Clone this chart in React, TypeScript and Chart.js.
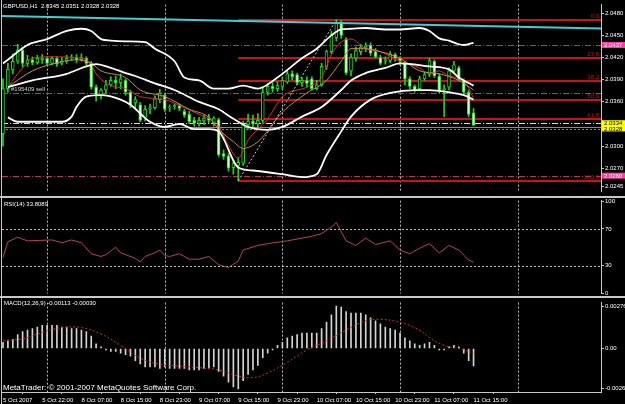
import React, { useEffect, useRef } from 'react';
import { Chart, registerables } from 'chart.js';

Chart.register(...registerables);

const FONT = '"Liberation Sans", Arial, sans-serif';

// ---------------- data ----------------
const SYMBOL = 'GBPUSD,H1';
const timeLabels = ['5 Oct 2007', '5 Oct 22:00', '8 Oct 07:00', '8 Oct 15:00', '8 Oct 23:00', '9 Oct 07:00', '9 Oct 15:00', '9 Oct 23:00', '10 Oct 07:00', '10 Oct 15:00', '10 Oct 23:00', '11 Oct 07:00', '11 Oct 15:00'];
const timeLabelBars = [0, 8, 16, 24, 32, 40, 48, 56, 64, 72, 80, 88, 96];
const gridBars = [9, 33, 57, 81, 105];

const opens = [
  2.0317, 2.0378, 2.0404, 2.0415, 2.0430, 2.0412, 2.0417, 2.0413, 2.0417, 2.0419,
  2.0412, 2.0419, 2.0412, 2.0415, 2.0419, 2.0420, 2.0417, 2.0419, 2.0412, 2.0380,
  2.0369, 2.0376, 2.0383, 2.0389, 2.0386, 2.0389, 2.0373, 2.0359, 2.0356, 2.0339,
  2.0350, 2.0352, 2.0363, 2.0369, 2.0352, 2.0353, 2.0355, 2.0347, 2.0343, 2.0335,
  2.0331, 2.0334, 2.0338, 2.0331, 2.0336, 2.0290, 2.0287, 2.0271, 2.0274, 2.0277,
  2.0329, 2.0334, 2.0330, 2.0335, 2.0373, 2.0381, 2.0378, 2.0381, 2.0387, 2.0398,
  2.0397, 2.0386, 2.0389, 2.0391, 2.0378, 2.0383, 2.0407, 2.0428, 2.0447, 2.0467,
  2.0445, 2.0402, 2.0419, 2.0428, 2.0433, 2.0437, 2.0428, 2.0420, 2.0415, 2.0416,
  2.0424, 2.0419, 2.0412, 2.0391, 2.0381, 2.0378, 2.0391, 2.0397, 2.0415, 2.0395,
  2.0376, 2.0380, 2.0402, 2.0406, 2.0389, 2.0373, 2.0345,
];
const highs = [
  2.0391, 2.0412, 2.0425, 2.0438, 2.0434, 2.0423, 2.0421, 2.0423, 2.0424, 2.0421,
  2.0421, 2.0421, 2.0420, 2.0423, 2.0424, 2.0424, 2.0425, 2.0421, 2.0415, 2.0383,
  2.0378, 2.0389, 2.0394, 2.0395, 2.0398, 2.0391, 2.0376, 2.0367, 2.0359, 2.0355,
  2.0357, 2.0368, 2.0377, 2.0372, 2.0356, 2.0357, 2.0357, 2.0350, 2.0347, 2.0339,
  2.0339, 2.0342, 2.0343, 2.0340, 2.0338, 2.0295, 2.0290, 2.0280, 2.0284, 2.0334,
  2.0343, 2.0342, 2.0344, 2.0380, 2.0385, 2.0386, 2.0387, 2.0393, 2.0402, 2.0402,
  2.0399, 2.0393, 2.0394, 2.0394, 2.0389, 2.0412, 2.0430, 2.0456, 2.0471, 2.0470,
  2.0447, 2.0425, 2.0434, 2.0438, 2.0440, 2.0440, 2.0432, 2.0423, 2.0421, 2.0428,
  2.0426, 2.0421, 2.0415, 2.0394, 2.0383, 2.0395, 2.0400, 2.0419, 2.0417, 2.0398,
  2.0383, 2.0406, 2.0415, 2.0408, 2.0391, 2.0376, 2.0351,
];
const lows = [
  2.0300, 2.0373, 2.0398, 2.0412, 2.0407, 2.0408, 2.0410, 2.0411, 2.0412, 2.0410,
  2.0410, 2.0408, 2.0410, 2.0412, 2.0416, 2.0413, 2.0415, 2.0410, 2.0377, 2.0361,
  2.0364, 2.0372, 2.0381, 2.0378, 2.0378, 2.0369, 2.0352, 2.0352, 2.0333, 2.0334,
  2.0344, 2.0350, 2.0359, 2.0347, 2.0347, 2.0350, 2.0348, 2.0339, 2.0330, 2.0327,
  2.0327, 2.0329, 2.0331, 2.0327, 2.0286, 2.0282, 2.0266, 2.0262, 2.0253, 2.0274,
  2.0323, 2.0326, 2.0325, 2.0331, 2.0369, 2.0373, 2.0374, 2.0377, 2.0385, 2.0390,
  2.0383, 2.0381, 2.0380, 2.0376, 2.0376, 2.0381, 2.0404, 2.0425, 2.0443, 2.0446,
  2.0397, 2.0395, 2.0415, 2.0424, 2.0428, 2.0423, 2.0419, 2.0410, 2.0411, 2.0413,
  2.0415, 2.0410, 2.0383, 2.0378, 2.0373, 2.0376, 2.0389, 2.0394, 2.0393, 2.0372,
  2.0340, 2.0376, 2.0399, 2.0389, 2.0370, 2.0340, 2.0328,
];
const closes = [
  2.0378, 2.0404, 2.0415, 2.0430, 2.0412, 2.0417, 2.0413, 2.0419, 2.0419, 2.0412,
  2.0419, 2.0411, 2.0415, 2.0419, 2.0420, 2.0417, 2.0420, 2.0412, 2.0380, 2.0369,
  2.0376, 2.0383, 2.0389, 2.0386, 2.0391, 2.0373, 2.0356, 2.0363, 2.0335, 2.0350,
  2.0352, 2.0364, 2.0372, 2.0350, 2.0353, 2.0355, 2.0351, 2.0342, 2.0333, 2.0331,
  2.0335, 2.0338, 2.0335, 2.0338, 2.0288, 2.0286, 2.0270, 2.0277, 2.0278, 2.0330,
  2.0334, 2.0330, 2.0335, 2.0373, 2.0381, 2.0378, 2.0382, 2.0389, 2.0398, 2.0394,
  2.0386, 2.0389, 2.0385, 2.0378, 2.0383, 2.0408, 2.0428, 2.0451, 2.0467, 2.0450,
  2.0399, 2.0420, 2.0430, 2.0434, 2.0436, 2.0426, 2.0421, 2.0412, 2.0417, 2.0424,
  2.0419, 2.0415, 2.0391, 2.0381, 2.0376, 2.0391, 2.0397, 2.0416, 2.0395, 2.0374,
  2.0378, 2.0402, 2.0410, 2.0391, 2.0373, 2.0343, 2.0328,
];

// [bar, price]
const bandUpper = [[0, 2.0412], [1, 2.0417], [5, 2.0437], [9, 2.0445], [13, 2.0456], [16, 2.0459], [18, 2.0456], [20, 2.0445], [22, 2.0443], [25, 2.0442], [29, 2.0441], [31, 2.0432], [35, 2.0415], [37, 2.0393], [40, 2.0389], [43, 2.0378], [46, 2.0378], [49, 2.0382], [52, 2.0378], [56, 2.0393], [61, 2.0419], [64, 2.0432], [67, 2.0450], [69, 2.0458], [71, 2.0459], [74, 2.0460], [78, 2.0458], [81, 2.0458], [85, 2.0460], [87, 2.0456], [89, 2.0446], [91, 2.0443], [93, 2.0438], [94, 2.0437], [96, 2.0440]];
const bandMiddle = [[1, 2.0380], [6, 2.0389], [13, 2.0398], [17, 2.0408], [19, 2.0411], [22, 2.0406], [25, 2.0399], [27, 2.0395], [31, 2.0385], [35, 2.0376], [40, 2.0360], [44, 2.0350], [47, 2.0337], [50, 2.0326], [54, 2.0322], [57, 2.0326], [61, 2.0340], [65, 2.0353], [69, 2.0376], [71, 2.0389], [74, 2.0399], [78, 2.0406], [81, 2.0412], [87, 2.0408], [91, 2.0404], [93, 2.0393], [96, 2.0382]];
const bandLower = [[1, 2.0339], [3, 2.0333], [12, 2.0333], [14, 2.0340], [15, 2.0353], [17, 2.0367], [20, 2.0369], [24, 2.0363], [26, 2.0356], [30, 2.0333], [33, 2.0326], [36, 2.0330], [39, 2.0323], [42, 2.0323], [44, 2.0320], [48, 2.0271], [51, 2.0267], [57, 2.0262], [61, 2.0258], [64, 2.0262], [66, 2.0288], [69, 2.0320], [71, 2.0340], [75, 2.0363], [79, 2.0372], [84, 2.0376], [87, 2.0376], [91, 2.0373], [94, 2.0369], [96, 2.0363]];
const maFast = [[1, 2.0380], [4, 2.0406], [6, 2.0419], [10, 2.0421], [16, 2.0419], [18, 2.0411], [19, 2.0398], [22, 2.0382], [25, 2.0378], [28, 2.0367], [33, 2.0363], [37, 2.0352], [40, 2.0343], [44, 2.0327], [46, 2.0301], [48, 2.0284], [50, 2.0308], [54, 2.0337], [57, 2.0367], [62, 2.0380], [65, 2.0393], [67, 2.0424], [69, 2.0441], [71, 2.0445], [74, 2.0432], [77, 2.0428], [81, 2.0415], [85, 2.0406], [87, 2.0398], [89, 2.0402], [91, 2.0395], [94, 2.0389], [96, 2.0365]];
const maSlow = [[1, 2.0380], [6, 2.0402], [10, 2.0411], [15, 2.0417], [18, 2.0412], [20, 2.0402], [25, 2.0393], [28, 2.0376], [33, 2.0367], [38, 2.0350], [42, 2.0339], [44, 2.0323], [47, 2.0306], [49, 2.0297], [52, 2.0306], [57, 2.0346], [62, 2.0372], [66, 2.0389], [69, 2.0415], [71, 2.0432], [74, 2.0432], [77, 2.0428], [81, 2.0419], [85, 2.0402], [89, 2.0398], [93, 2.0389], [96, 2.0376]];
const trendCyan = [[-1, 2.04765], [122, 2.04592]];

const fibLevels = [0, 23.6, 38.2, 50, 61.8, 100];
const fibLowBar = 48;
const fibHighBar = 68;
const fibLow = 2.0253;
const fibHigh = 2.0471;

const objectLines = [
  { price: 2.0437, color: '#b23a60', dash: [6, 2, 1, 2] },
  { price: 2.0260, color: '#b23a60', dash: [6, 2, 1, 2] },
  { price: 2.0372, color: '#2c8c2c', dash: [6, 2, 1, 2] },
  { price: 2.0332, color: '#e4e4b0', dash: [6, 2, 1, 2] },
  { price: 2.0326, color: '#8c8c8c', dash: [] },
  { price: 2.0323, color: '#8c8c44', dash: [2, 2] },
];
const orderText = '#195409 sell';
const orderPrice = 2.0372;
const priceBoxes = [
  { text: '2.0437', price: 2.0437, bg: '#ff3d9e', fg: '#ffffff' },
  { text: '2.0334', price: 2.0331, bg: '#ffff00', fg: '#000000' },
  { text: '2.0328', price: 2.0324, bg: '#ffff00', fg: '#000000' },
  { text: '2.0260', price: 2.0260, bg: '#ff3d9e', fg: '#ffffff' },
];
const priceTicks = [2.0245, 2.0270, 2.0300, 2.0330, 2.0360, 2.0390, 2.0420, 2.0450, 2.0480];

const rsiValues = [[0, 39], [1, 56], [3, 61], [5, 57], [10, 58], [12, 55], [14, 58], [16, 55], [18, 43], [20, 40], [21, 42], [23, 50], [24, 44], [25, 42], [27, 38], [28, 34], [29, 40], [31, 44], [32, 47], [33, 41], [34, 40], [36, 43], [38, 37], [40, 37], [42, 40], [44, 31], [46, 28], [48, 35], [49, 47], [52, 52], [54, 54], [58, 57], [61, 60], [63, 62], [65, 65], [67, 72], [68, 77], [70, 57], [72, 52], [74, 60], [76, 53], [79, 57], [81, 47], [83, 43], [85, 49], [87, 54], [89, 44], [91, 52], [93, 47], [95, 36], [96, 33.8089]];
const rsiLevels = [30, 70];
const rsiTicks = [0, 30, 70, 100];

const macdHist = [
  0.0004, 0.0005, 0.0006, 0.0009, 0.0011, 0.0012, 0.0013, 0.0014, 0.0015, 0.0015,
  0.0015, 0.0015, 0.0014, 0.0014, 0.0013, 0.0013, 0.0012, 0.0011, 0.0008, 0.0003,
  0.0001, -0.0001, -0.0002, -0.0002, -0.0003, -0.0004, -0.0005, -0.0008, -0.0010, -0.0012,
  -0.0012, -0.0012, -0.0013, -0.0012, -0.0013, -0.0013, -0.0013, -0.0013, -0.0014, -0.0014,
  -0.0014, -0.0013, -0.0013, -0.0012, -0.0015, -0.0018, -0.0022, -0.0025, -0.00263, -0.0021,
  -0.0017, -0.0014, -0.0011, -0.0006, -0.0003, -0.0001, 0.0002, 0.0004, 0.0007, 0.0008,
  0.0009, 0.0010, 0.0010, 0.0010, 0.0010, 0.0013, 0.0017, 0.0022, 0.00276, 0.0027,
  0.0024, 0.0023, 0.0023, 0.0023, 0.0022, 0.0020, 0.0018, 0.0016, 0.0014, 0.0013,
  0.0012, 0.0010, 0.0007, 0.0005, 0.0003, 0.0002, 0.0003, 0.0004, 0.0002, -0.0001,
  -0.0001, 0.0001, 0.0002, 0.0001, -0.0003, -0.0008, -0.00113,
];
const macdSignal = [[0, 0.00053], [4, 0.00063], [8, 0.00105], [12, 0.00136], [16, 0.00136], [20, 0.00094], [24, 0.0002], [28, -0.00063], [32, -0.00104], [36, -0.00115], [40, -0.00125], [44, -0.0014], [48, -0.0018], [51, -0.0019], [54, -0.0016], [58, -0.0009], [62, -0.0001], [66, 0.0005], [70, 0.0012], [74, 0.0018], [77, 0.0019], [81, 0.0017], [85, 0.0012], [87, 0.0007], [90, 0.0002], [93, 0.0], [96, -0.0003]];
const macdTicks = [-0.00263, 0, 0.00276];

// ---------------- layout / style ----------------
const W = 625;
const AXIS_W = 24;
const X_MIN = -0.2;
const X_MAX = 122;
const FRAME = '#c8c8c8';
const GREEN = '#22d422';
const BULL_FILL = '#000000';
const BEAR_FILL = '#d6ffd0';
const FIB_COLOR = '#c81414';

const font = (s: number) => `${s}px ${FONT}`;

const xAxis = (display: boolean): any => ({
  type: 'linear',
  min: X_MIN,
  max: X_MAX,
  offset: false,
  display,
  grid: display ? { display: true, drawOnChartArea: false, drawTicks: true, tickLength: 2, color: FRAME } : { display: false },
  border: display ? { display: true, color: FRAME } : { display: false },
  afterFit: (s: any) => { if (display) s.height = 12; },
  afterBuildTicks: (s: any) => { s.ticks = timeLabelBars.map((v) => ({ value: v })); },
  ticks: {
    color: '#ffffff',
    font: { size: 6, family: FONT },
    padding: 3,
    maxRotation: 0,
    autoSkip: false,
    align: 'start',
    callback: (v: number) => {
      const k = timeLabelBars.indexOf(v);
      return k >= 0 ? timeLabels[k] : '';
    },
  },
});

const yAxis = (min: number, max: number, ticks: number[], fmt: (v: number) => string): any => ({
  type: 'linear',
  position: 'right',
  min,
  max,
  afterFit: (s: any) => { s.width = AXIS_W; },
  afterBuildTicks: (s: any) => { s.ticks = ticks.map((v) => ({ value: v })); },
  grid: { display: true, drawOnChartArea: false, drawTicks: true, tickLength: 3, color: FRAME },
  border: { display: true, color: FRAME },
  ticks: { color: '#ffffff', font: { size: 6, family: FONT }, padding: 1, autoSkip: false, callback: fmt },
});

const lineDs = (pts: number[][], color: string, width: number, extra: any = {}): any => ({
  type: 'line',
  data: pts.map(([x, y]) => ({ x, y })),
  borderColor: color,
  borderWidth: width,
  pointRadius: 0,
  fill: false,
  cubicInterpolationMode: 'monotone',
  order: 0,
  ...extra,
});

const drawGrid = (chart: any) => {
  const { ctx, chartArea: a, scales } = chart;
  ctx.save();
  ctx.strokeStyle = '#b8b8b8';
  ctx.lineWidth = 1;
  ctx.setLineDash([2, 2]);
  gridBars.forEach((b) => {
    const px = Math.round(scales.x.getPixelForValue(b)) + 0.5;
    ctx.beginPath();
    ctx.moveTo(px, a.top);
    ctx.lineTo(px, a.bottom);
    ctx.stroke();
  });
  ctx.restore();
};

const drawLeftFrame = (chart: any) => {
  const { ctx, height } = chart;
  ctx.save();
  ctx.fillStyle = FRAME;
  ctx.fillRect(1, 0, 1, height);
  ctx.restore();
};

const commonOpts = (padding: any): any => ({
  responsive: false,
  animation: false,
  devicePixelRatio: 1,
  events: [],
  layout: { padding },
  plugins: { legend: { display: false }, tooltip: { enabled: false } },
});

const bars = opens.map((_, i) => i);

function mainConfig(): any {
  const overlay = {
    id: 'mainOverlay',
    beforeDatasetsDraw(chart: any) {
      drawGrid(chart);
      const { ctx, chartArea: a, scales: { x, y } } = chart;
      ctx.save();
      ctx.lineWidth = 1;
      objectLines.forEach((l) => {
        const py = Math.round(y.getPixelForValue(l.price)) + 0.5;
        ctx.strokeStyle = l.color;
        ctx.setLineDash(l.dash);
        ctx.beginPath();
        ctx.moveTo(a.left, py);
        ctx.lineTo(a.right, py);
        ctx.stroke();
      });
      ctx.setLineDash([]);
      ctx.strokeStyle = FIB_COLOR;
      ctx.lineWidth = 2;
      fibLevels.forEach((lv) => {
        const p = fibHigh - ((fibHigh - fibLow) * lv) / 100;
        const py = Math.round(y.getPixelForValue(p));
        ctx.beginPath();
        ctx.moveTo(x.getPixelForValue(fibLowBar), py);
        ctx.lineTo(a.right, py);
        ctx.stroke();
      });
      ctx.restore();
    },
    afterDraw(chart: any) {
      const { ctx, chartArea: a, scales: { y } } = chart;
      drawLeftFrame(chart);
      ctx.save();
      ctx.textBaseline = 'alphabetic';
      ctx.font = font(6);
      // fib labels
      ctx.fillStyle = FIB_COLOR;
      ctx.textAlign = 'right';
      fibLevels.forEach((lv) => {
        const p = fibHigh - ((fibHigh - fibLow) * lv) / 100;
        const py = Math.round(y.getPixelForValue(p));
        ctx.fillText(lv.toFixed(1), a.right - 2, py - 2);
      });
      // order text
      ctx.textAlign = 'left';
      ctx.fillStyle = '#d0d0d0';
      ctx.fillText(orderText, 11, y.getPixelForValue(orderPrice) - 2);
      // title
      const n = opens.length - 1;
      ctx.fillStyle = '#ffffff';
      ctx.textBaseline = 'middle';
      ctx.fillText(`${SYMBOL}  ${opens[n].toFixed(4)} ${highs[n].toFixed(4)} ${lows[n].toFixed(4)} ${closes[n].toFixed(4)}`, 3, 6);
      // price boxes
      priceBoxes.forEach((b) => {
        const py = y.getPixelForValue(b.price);
        ctx.fillStyle = b.bg;
        ctx.fillRect(a.right + 1, py - 3, W - a.right - 1, 6);
        ctx.fillStyle = b.fg;
        ctx.fillText(b.text, a.right + 3, py + 0.5);
      });
      ctx.restore();
    },
  };
  return {
    type: 'bar',
    data: {
      datasets: [
        lineDs(trendCyan, '#3ecfd6', 2, { cubicInterpolationMode: 'default', tension: 0 }),
        lineDs([[fibLowBar, fibLow], [fibHighBar, fibHigh]], '#c8c8c8', 1, { borderDash: [2, 2], cubicInterpolationMode: 'default', tension: 0 }),
        lineDs(bandUpper, '#ffffff', 1.8),
        lineDs(bandMiddle, '#ffffff', 1.8),
        lineDs(bandLower, '#ffffff', 1.8),
        lineDs(maSlow, '#c98a4a', 1),
        lineDs(maFast, '#e0301e', 1),
        {
          type: 'bar',
          data: bars.map((i) => ({ x: i, y: [opens[i], closes[i]] })),
          backgroundColor: bars.map((i) => (closes[i] > opens[i] ? BULL_FILL : BEAR_FILL)),
          borderColor: GREEN,
          borderWidth: 1,
          borderSkipped: false,
          barThickness: 3,
          grouped: false,
          order: 1,
        },
        {
          type: 'bar',
          data: bars.map((i) => ({ x: i, y: [lows[i], highs[i]] })),
          backgroundColor: GREEN,
          barThickness: 1,
          grouped: false,
          order: 2,
        },
      ],
    },
    options: {
      ...commonOpts({ left: 2, right: 0, top: 1, bottom: 1 }),
      scales: {
        x: xAxis(false),
        y: yAxis(2.02387, 2.04917, priceTicks, (v: number) => v.toFixed(4)),
      },
    },
    plugins: [overlay],
  };
}

function rsiConfig(): any {
  const overlay = {
    id: 'rsiOverlay',
    beforeDatasetsDraw(chart: any) {
      drawGrid(chart);
      const { ctx, chartArea: a, scales: { y } } = chart;
      ctx.save();
      ctx.strokeStyle = '#c0c0c0';
      ctx.lineWidth = 1;
      ctx.setLineDash([2, 2]);
      rsiLevels.forEach((lv) => {
        const py = Math.round(y.getPixelForValue(lv)) + 0.5;
        ctx.beginPath();
        ctx.moveTo(a.left, py);
        ctx.lineTo(a.right, py);
        ctx.stroke();
      });
      ctx.restore();
    },
    afterDraw(chart: any) {
      const { ctx, height } = chart;
      drawLeftFrame(chart);
      ctx.save();
      ctx.fillStyle = FRAME;
      ctx.fillRect(0, 0, W, 2);
      ctx.fillRect(0, height - 2, W, 2);
      ctx.fillStyle = '#ffffff';
      ctx.font = font(6);
      ctx.textBaseline = 'middle';
      ctx.textAlign = 'left';
      ctx.fillText(`RSI(14) ${rsiValues[rsiValues.length - 1][1].toFixed(4)}`, 4, 8);
      ctx.restore();
    },
  };
  return {
    type: 'line',
    data: {
      datasets: [lineDs(rsiValues, '#b4445f', 1, { cubicInterpolationMode: 'default', tension: 0 })],
    },
    options: {
      ...commonOpts({ left: 2, right: 0, top: 3, bottom: 3 }),
      scales: {
        x: xAxis(false),
        y: yAxis(-0.2, 100.84, rsiTicks, (v: number) => String(v)),
      },
    },
    plugins: [overlay],
  };
}

function macdConfig(): any {
  const overlay = {
    id: 'macdOverlay',
    beforeDatasetsDraw(chart: any) {
      drawGrid(chart);
    },
    afterDraw(chart: any) {
      const { ctx, chartArea: a } = chart;
      drawLeftFrame(chart);
      ctx.save();
      ctx.fillStyle = '#ffffff';
      ctx.textAlign = 'left';
      ctx.textBaseline = 'middle';
      ctx.font = font(6);
      const sig = macdSignal[macdSignal.length - 1][1];
      ctx.fillText(`MACD(12,26,9) ${macdHist[macdHist.length - 1].toFixed(5)} ${sig.toFixed(5)}`, 4, 5);
      ctx.font = font(8);
      ctx.fillText('MetaTrader: \u00a9 2001-2007 MetaQuotes Software Corp.', 3, a.bottom - 4);
      ctx.restore();
    },
  };
  return {
    type: 'bar',
    data: {
      datasets: [
        lineDs(macdSignal, '#d42a2a', 1, { borderDash: [2, 2], tension: 0.4, cubicInterpolationMode: 'default' }),
        {
          type: 'bar',
          data: macdHist.map((v, i) => ({ x: i, y: v })),
          backgroundColor: '#d4d4d4',
          barThickness: 1,
          grouped: false,
          order: 1,
        },
      ],
    },
    options: {
      ...commonOpts({ left: 2, right: 0, top: 1, bottom: 0 }),
      scales: {
        x: xAxis(true),
        y: yAxis(-0.002838, 0.002989, macdTicks, (v: number) => (v === 0 ? '0.00' : v.toFixed(5))),
      },
    },
    plugins: [overlay],
  };
}

export default function App() {
  const mainRef = useRef<HTMLCanvasElement>(null);
  const rsiRef = useRef<HTMLCanvasElement>(null);
  const macdRef = useRef<HTMLCanvasElement>(null);

  useEffect(() => {
    document.body.style.margin = '0';
    document.body.style.background = '#000';
    const charts = [
      new Chart(mainRef.current as HTMLCanvasElement, mainConfig()),
      new Chart(rsiRef.current as HTMLCanvasElement, rsiConfig()),
      new Chart(macdRef.current as HTMLCanvasElement, macdConfig()),
    ];
    return () => charts.forEach((c) => c.destroy());
  }, []);

  return (
    <div style={{ position: 'relative', width: W, height: 404, background: '#000', overflow: 'hidden' }}>
      <canvas ref={mainRef} width={W} height={196} style={{ position: 'absolute', left: 0, top: 0, width: W, height: 196 }} />
      <canvas ref={rsiRef} width={W} height={102} style={{ position: 'absolute', left: 0, top: 196, width: W, height: 102 }} />
      <canvas ref={macdRef} width={W} height={106} style={{ position: 'absolute', left: 0, top: 298, width: W, height: 106 }} />
    </div>
  );
}
